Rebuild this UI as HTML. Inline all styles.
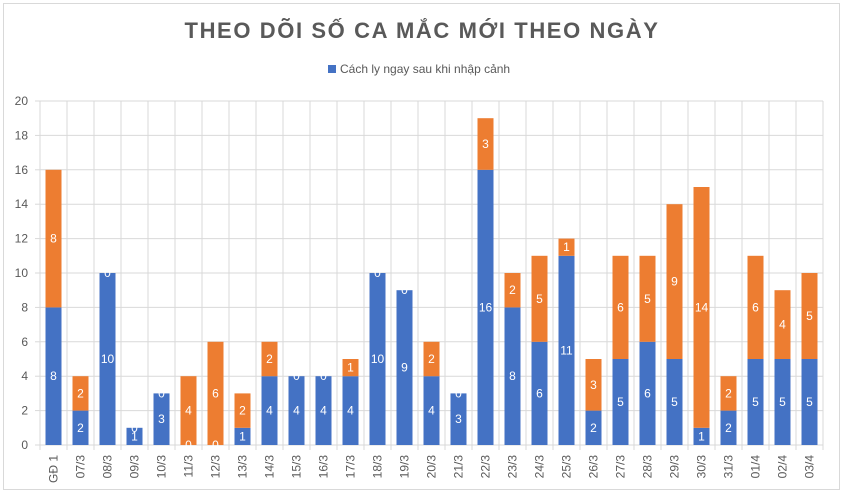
<!DOCTYPE html>
<html><head><meta charset="utf-8"><style>
body{margin:0;background:#fff}
svg{display:block;font-family:"Liberation Sans","Noto Sans CJK SC",sans-serif}
</style></head><body>
<svg id="c" width="844" height="493">
<rect x="3.5" y="3.5" width="836" height="486" fill="#fff" stroke="#d9d9d9"/>
<text x="422" y="38" text-anchor="middle" font-size="22" font-weight="bold" fill="#595959" letter-spacing="1.6">THEO DÕI SỐ CA MẮC MỚI THEO NGÀY</text>
<g>
<rect x="328" y="65" width="8" height="8" fill="#4472C4"/>
<text x="340" y="73" font-size="12" fill="#595959">Cách ly ngay sau khi nhập cảnh</text>
</g>
<g id="plot"></g>
</svg>
<script>
const categories=["GĐ 1","07/3","08/3","09/3","10/3","11/3","12/3","13/3","14/3","15/3","16/3","17/3","18/3","19/3","20/3","21/3","22/3","23/3","24/3","25/3","26/3","27/3","28/3","29/3","30/3","31/3","01/4","02/4","03/4"];
const blueValues=[8,2,10,1,3,0,0,1,4,4,4,4,10,9,4,3,16,8,6,11,2,5,6,5,1,2,5,5,5];
const orangeValues=[8,2,0,0,0,4,6,2,2,0,0,1,0,0,2,0,3,2,5,1,3,6,5,9,14,2,6,4,5];
const yTicks=[0,2,4,6,8,10,12,14,16,18,20];
const NS="http://www.w3.org/2000/svg";
const g=document.getElementById('plot');
const L=40,R=823,T=101,B=445,yMax=20;
const bw=(R-L)/categories.length;
const y=v=>B-(v/yMax)*(B-T);
const xc=i=>L+bw*(i+0.5);
function mk(tag,a){const e=document.createElementNS(NS,tag);for(const k in a)e.setAttribute(k,a[k]);g.appendChild(e);return e;}
yTicks.forEach(t=>{
 const l=mk('line',{x1:L,x2:R,y1:y(t),y2:y(t),stroke:'#d9d9d9'});
 
 
 const tk=mk('line',{x1:L-5,x2:L,y1:y(t),y2:y(t),stroke:'#d9d9d9'});
 
 
 const tx=mk('text',{x:L-12,y:y(t)+4,'text-anchor':'end','font-size':12,fill:'#595959'});
 tx.textContent=t;
 
 
});
for(let i=0;i<=categories.length;i++){
 const v=mk('line',{x1:L+bw*i,x2:L+bw*i,y1:T,y2:B+5,stroke:'#d9d9d9'});
 
 
}
const w=16;
categories.forEach((c,i)=>{
 const b=blueValues[i],o=orangeValues[i];
 const r1=mk('rect',{x:xc(i)-w/2,y:y(b),width:w,height:B-y(b),fill:'#4472C4'});
 
 
 const r2=mk('rect',{x:xc(i)-w/2,y:y(b+o),width:w,height:y(b)-y(b+o),fill:'#ED7D31'});
 
 
 const t1=mk('text',{x:xc(i),y:(y(b)+B)/2+4,'text-anchor':'middle','font-size':12,fill:'#fff'});
 t1.textContent=b;
 
 
 const t2=mk('text',{x:xc(i),y:(y(b)+y(b+o))/2+4,'text-anchor':'middle','font-size':12,fill:'#fff'});
 t2.textContent=o;
 
 
 const xl=mk('text',{x:0,y:0,'text-anchor':'end','font-size':12,fill:'#595959',transform:`translate(${xc(i)+4},${B+10}) rotate(-90)`});
 xl.textContent=c;
 
 
});
</script>
</body></html>
